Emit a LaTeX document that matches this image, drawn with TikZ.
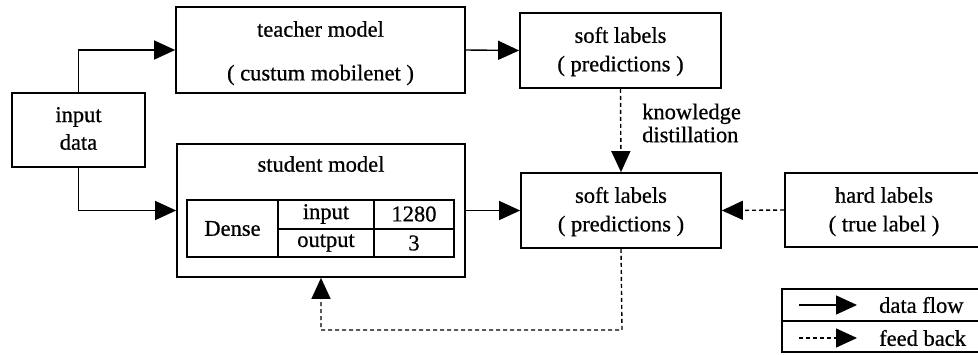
\documentclass[tikz,border=0pt]{standalone}
\usepackage{fontspec}
\setmainfont{Liberation Serif}[RawFeature={embolden=0.7}]
\usetikzlibrary{arrows.meta}
\begin{document}
\begin{tikzpicture}[x=1pt,y=-1pt,
  box/.style={draw, line width=1.7pt, inner sep=0pt, minimum width=#1},
  txt/.style={font=\fontsize{22.5}{25}\selectfont, inner sep=0pt, anchor=center},
  flow/.style={line width=1.4pt, -{Triangle[length=21pt,width=19pt]}},
  fback/.style={flow, dash pattern=on 4pt off 3pt},
  cell/.style={line width=1.7pt}]
\useasboundingbox (0,0) rectangle (978,354);

% boxes
\node[box=133pt, minimum height=74pt] (input) at (78.5,130) {};
\node[box=289pt, minimum height=86pt] (teacher) at (320.5,50) {};
\node[box=288pt, minimum height=133pt] (student) at (321,210.5) {};
\node[box=201pt, minimum height=75pt] (soft1) at (620.5,50.5) {};
\node[box=200pt, minimum height=75pt] (soft2) at (621,210.5) {};
\node[box=200pt, minimum height=74pt] (hard) at (885,210) {};

% box texts
\node[txt] (tin1) at (78.5,117) {input};
\node[txt] (tin2) at (78.5,142) {data};
\node[txt] (tte1) at (320.5,29) {teacher model};
\node[txt] (tte2) at (320.5,75) {( custum mobilenet )};
\node[txt] (tst) at (321,164) {student model};
\node[txt] (ts11) at (620.5,35) {soft labels};
\node[txt] (ts12) at (620.5,66) {( predictions )};
\node[txt] (ts21) at (621,195) {soft labels};
\node[txt] (ts22) at (621,226) {( predictions )};
\node[txt] (th1) at (884,195) {hard labels};
\node[txt] (th2) at (884,226) {( true label )};

% dense layer table inside the student model
\draw[cell] (187,200) rectangle (454,257);
\draw[cell] (278,229) -- (454,229);
\draw[cell] (278,200) -- (278,257);
\draw[cell] (374,200) -- (374,257);
\node[txt] (tdense) at (232.5,228.5) {Dense};
\node[txt] (tinp) at (326,214) {input};
\node[txt] (tval1) at (414,214) {1280};
\node[txt] (tout) at (326,243) {output};
\node[txt] (tval2) at (414,243) {3};

% connectors
\draw[flow] (input.north) |- (teacher.west);
\draw[flow] (input.south) |- (student.west);
\draw[flow] (teacher.east) -- (soft1.west);
\draw[flow] (student.east) -- (soft2.west |- student.east);
\draw[fback] (soft1.south) -- (soft2.north);
\draw[fback] (hard.west) -- (soft2.east);
\coordinate (fbturn) at (622,330);
\draw[fback] (soft2.south) -- (fbturn) -| (student.south);
\node[txt, align=left, anchor=west, font=\fontsize{22.5}{23}\selectfont] (kd) at (642,123) {knowledge\\distillation};

% legend
\draw[line width=1.7pt] (782,289) rectangle (990,352);
\draw[line width=1.7pt] (782,321) -- (990,321);
\coordinate (l1a) at (799,305);
\coordinate (l1b) at (857,305);
\coordinate (l2a) at (799,338);
\coordinate (l2b) at (857,338);
\draw[flow] (l1a) -- (l1b);
\draw[fback] (l2a) -- (l2b);
\node[txt, anchor=west] (tdf) at (879,305) {data flow};
\node[txt, anchor=west] (tfb) at (879,338) {feed back};
\end{tikzpicture}
\end{document}
